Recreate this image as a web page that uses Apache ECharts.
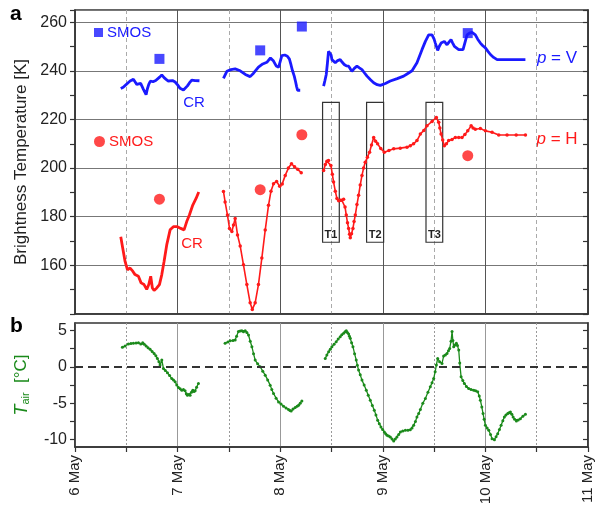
<!DOCTYPE html>
<html><head><meta charset="utf-8">
<script src="https://cdn.jsdelivr.net/npm/echarts@6/dist/echarts.min.js"></script>
<style>html,body{margin:0;padding:0;background:#fff}#c{width:596px;height:509px}</style>
</head><body><div id="c"></div>
<script>
// ---- data ----
const dayLabels = ['6 May','7 May','8 May','9 May','10 May','11 May'];
const tbLabels = [160,180,200,220,240,260];
const tairLabels = [-10,-5,0,5];

const smosV = [[0.823,244.9],[1.805,248.4],[2.211,258.2],[3.828,255.5]];
const smosH = [[0.823,187.2],[1.805,191.1],[2.211,213.7],[3.828,205.1]];

const crV1 = [[0.446,232.7],[0.47,233.2],[0.488,233.8],[0.515,235.0],[0.537,235.8],[0.553,236.6],[0.569,236.5],[0.585,235.5],[0.602,234.4],[0.620,235.2],[0.640,234.8],[0.667,232.4],[0.693,230.2],[0.705,232.5],[0.719,234.4],[0.735,235.8],[0.748,236.5],[0.760,235.5],[0.771,235.2],[0.787,236.0],[0.803,236.5],[0.825,237.4],[0.846,238.3],[0.868,237.2],[0.888,236.5],[0.910,235.8],[0.927,235.8],[0.950,236.0],[0.976,235.4],[1.0,234.2],[1.024,232.8],[1.040,232.2],[1.057,232.1],[1.075,232.8],[1.096,233.8],[1.115,235.0],[1.138,236.2],[1.155,236.5],[1.171,236.0],[1.190,236.2],[1.213,235.9]];
const crV2 = [[1.447,236.9],[1.480,239.8],[1.520,240.5],[1.561,240.8],[1.610,240.0],[1.660,238.5],[1.707,237.6],[1.740,239.0],[1.788,241.5],[1.830,242.8],[1.870,243.5],[1.905,245.3],[1.935,244.0],[1.961,242.0],[1.985,241.5],[2.016,246.2],[2.045,246.5],[2.070,246.0],[2.090,244.8],[2.105,242.5],[2.120,240.0],[2.137,237.8],[2.150,235.5],[2.160,233.5],[2.170,232.0],[2.195,232.0]];
const crV3 = [[2.423,233.7],[2.436,236],[2.449,238.5],[2.460,243],[2.471,248.0],[2.480,248.7],[2.488,248.5],[2.496,246.5],[2.504,244.6],[2.520,243.8],[2.537,243.3],[2.560,244.2],[2.585,244.6],[2.605,243.5],[2.624,242.6],[2.645,242.0],[2.667,241.9],[2.683,240.8],[2.699,239.8],[2.722,241.0],[2.748,241.9],[2.772,241.2],[2.797,240.5],[2.820,239.2],[2.846,237.8],[2.880,236.3],[2.911,235.1],[2.945,234.3],[2.976,234.0],[3.025,234.8],[3.073,235.8],[3.140,236.8],[3.203,237.8],[3.240,238.8],[3.285,240.0],[3.333,243.3],[3.382,248.7],[3.415,252.1],[3.447,254.8],[3.480,254.8],[3.500,253.0],[3.512,251.4],[3.535,248.4],[3.550,250.0],[3.568,251.4],[3.600,252.1],[3.626,250.7],[3.645,251.8],[3.665,252.8],[3.680,251.5],[3.698,250.0],[3.740,248.7],[3.782,248.7],[3.800,251.5],[3.821,254.8],[3.845,255.5],[3.870,255.8],[3.902,254.8],[3.925,253.0],[3.951,251.4],[3.975,250.3],[4.0,249.4],[4.025,248.0],[4.049,246.7],[4.080,245.5],[4.114,244.6],[4.179,244.6],[4.280,244.6],[4.390,244.6]];

const crH1 = [[0.446,171.8],[0.465,167.1],[0.488,161.6],[0.511,158.2],[0.537,158.9],[0.563,157.6],[0.585,156.2],[0.618,155.5],[0.644,152.8],[0.673,152.1],[0.699,150.1],[0.719,152.1],[0.738,155.5],[0.754,150.7],[0.771,149.7],[0.797,150.7],[0.823,152.1],[0.846,156.2],[0.868,161.6],[0.894,168.4],[0.927,174.6],[0.959,175.9],[0.998,175.9],[1.031,175.2],[1.063,174.6],[1.089,178.0],[1.115,180.7],[1.148,184.8],[1.180,187.5],[1.206,190.2]];
const crH2 = [[1.447,190.4],[1.463,186.1],[1.486,180.7],[1.506,175.2],[1.529,173.9],[1.545,176.6],[1.561,179.3],[1.584,172.5],[1.610,168.0],[1.642,160.2],[1.675,152.1],[1.707,144.6],[1.728,141.9],[1.756,144.6],[1.788,152.1],[1.821,163.0],[1.854,174.5],[1.886,184.7],[1.910,190.5],[1.935,193.6],[1.965,194.5],[1.995,192.5],[2.020,193.5],[2.049,197.0],[2.080,200.0],[2.110,201.8],[2.140,200.5],[2.170,199.5],[2.205,198.1]];
const crH3 = [[2.423,199.0],[2.440,201.5],[2.455,202.8],[2.471,203.1],[2.494,201.1],[2.508,197.5],[2.520,194.3],[2.537,190.5],[2.553,187.5],[2.570,186.6],[2.585,186.8],[2.600,186.8],[2.618,187.2],[2.632,184.0],[2.644,180.7],[2.656,177.5],[2.667,175.2],[2.676,172.8],[2.683,171.4],[2.695,173.0],[2.709,175.2],[2.720,178.0],[2.732,180.7],[2.748,185.0],[2.764,188.8],[2.780,193.0],[2.797,197.0],[2.813,200.0],[2.829,202.4],[2.850,204.5],[2.871,206.5],[2.890,209.5],[2.911,212.6],[2.930,211.0],[2.949,210.0],[2.980,208.0],[3.015,206.5],[3.060,207.2],[3.106,207.9],[3.170,208.2],[3.236,208.6],[3.268,209.2],[3.300,210.0],[3.333,211.3],[3.366,214.0],[3.400,215.5],[3.431,217.4],[3.480,219.2],[3.522,220.8],[3.545,218.8],[3.556,216.5],[3.568,214.0],[3.584,211.5],[3.600,209.2],[3.620,210.0],[3.642,211.3],[3.675,211.8],[3.707,212.6],[3.740,212.6],[3.772,212.6],[3.800,213.8],[3.828,215.3],[3.861,217.4],[3.880,216.5],[3.902,216.0],[3.951,216.3],[4.0,215.3],[4.065,214.7],[4.130,213.6],[4.211,213.6],[4.300,213.6],[4.390,213.6]];

const transects = [
  {name:'T1', x0:2.413, x1:2.576},
  {name:'T2', x0:2.842, x1:3.008},
  {name:'T3', x0:3.421, x1:3.584}
];
const transectRange = [169.5, 227];

const tair1 = [[0.462,2.66],[0.488,2.84],[0.520,3.12],[0.545,3.2],[0.569,3.21],[0.595,3.25],[0.618,3.30],[0.641,3.12],[0.660,3.30],[0.675,3.1],[0.693,2.84],[0.712,2.6],[0.732,2.39],[0.752,2.1],[0.771,1.83],[0.788,1.5],[0.803,1.15],[0.818,0.7],[0.829,0.23],[0.846,0.92],[0.862,-0.23],[0.880,-0.5],[0.901,-0.83],[0.922,-1.2],[0.943,-1.61],[0.960,-1.8],[0.976,-2.06],[0.992,-2.5],[1.008,-2.84],[1.025,-3.0],[1.041,-3.21],[1.057,-3.1],[1.073,-3.30],[1.085,-3.7],[1.096,-3.90],[1.110,-3.8],[1.122,-3.90],[1.135,-3.5],[1.148,-3.21],[1.160,-3.4],[1.171,-3.30],[1.185,-2.8],[1.203,-2.29]];
const tair2 = [[1.463,3.21],[1.490,3.4],[1.512,3.58],[1.540,3.6],[1.561,3.67],[1.575,4.2],[1.593,4.82],[1.610,4.9],[1.626,4.95],[1.642,4.8],[1.659,4.95],[1.675,4.7],[1.691,4.36],[1.708,3.5],[1.724,2.75],[1.740,1.8],[1.756,0.92],[1.780,0.4],[1.805,0],[1.830,-0.6],[1.854,-1.15],[1.878,-1.8],[1.902,-2.52],[1.918,-3.1],[1.935,-3.67],[1.960,-4.3],[1.984,-4.82],[2.008,-5.1],[2.033,-5.41],[2.057,-5.65],[2.081,-5.87],[2.095,-6.0],[2.107,-6.06],[2.125,-5.8],[2.146,-5.60],[2.165,-5.4],[2.179,-5.28],[2.195,-5.0],[2.211,-4.68]];
const tair3 = [[2.439,1.15],[2.455,1.6],[2.472,2.06],[2.488,2.4],[2.504,2.75],[2.525,3.1],[2.546,3.44],[2.565,3.8],[2.585,4.13],[2.600,4.4],[2.618,4.59],[2.632,4.8],[2.644,4.95],[2.655,4.7],[2.667,4.50],[2.675,4.2],[2.683,3.90],[2.696,3.3],[2.709,2.75],[2.725,1.8],[2.741,0.92],[2.752,0.2],[2.764,-0.46],[2.780,-1.1],[2.797,-1.83],[2.818,-2.5],[2.839,-3.21],[2.858,-3.9],[2.878,-4.59],[2.898,-5.3],[2.917,-5.96],[2.933,-6.6],[2.950,-7.34],[2.966,-7.8],[2.982,-8.26],[2.998,-8.6],[3.015,-8.94],[3.028,-9.2],[3.041,-9.40],[3.057,-9.5],[3.073,-9.63],[3.090,-9.9],[3.106,-10.18],[3.122,-9.9],[3.138,-9.63],[3.155,-9.3],[3.171,-8.94],[3.195,-8.8],[3.220,-8.72],[3.245,-8.7],[3.268,-8.62],[3.285,-8.4],[3.301,-8.03],[3.318,-7.5],[3.333,-6.88],[3.350,-6.4],[3.366,-5.85],[3.390,-5.0],[3.415,-4.36],[3.440,-3.5],[3.463,-2.75],[3.480,-2.2],[3.496,-1.61],[3.510,-0.7],[3.522,0.23],[3.535,1.15],[3.554,0.69],[3.577,0.46],[3.593,1.47],[3.610,1.6],[3.626,1.83],[3.640,2.2],[3.652,2.52],[3.665,3.5],[3.675,4.82],[3.683,3.6],[3.691,2.75],[3.705,3.0],[3.717,3.21],[3.728,2.9],[3.740,2.29],[3.750,0.5],[3.763,-1.38],[3.780,-1.9],[3.795,-2.29],[3.815,-2.7],[3.837,-2.98],[3.860,-3.1],[3.886,-3.21],[3.905,-3.3],[3.925,-3.44],[3.940,-4.0],[3.951,-4.59],[3.965,-5.5],[3.977,-6.42],[3.988,-7.2],[4.0,-8.03],[4.017,-8.4],[4.033,-8.72],[4.050,-9.3],[4.065,-9.86],[4.088,-10.0],[4.104,-9.6],[4.120,-9.17],[4.137,-8.6],[4.153,-8.03],[4.170,-7.4],[4.185,-6.88],[4.200,-6.6],[4.218,-6.42],[4.230,-6.3],[4.244,-6.19],[4.258,-6.5],[4.270,-6.88],[4.285,-7.2],[4.302,-7.43],[4.320,-7.3],[4.341,-7.11],[4.365,-6.8],[4.390,-6.51]];

// ---- styles ----
const BLUE = '#1a1aff', RED = '#ff1a1a', GREEN = '#1b8a1b', INK = '#222';
const FONT = 'Liberation Sans, Arial, sans-serif';

function crSeries(name, data, color, thin) {
  return {
    type: 'line', name: name, xAxisIndex: 0, yAxisIndex: 0, data: data,
    showSymbol: !!thin, symbol: 'circle', symbolSize: thin ? 3.5 : 0,
    lineStyle: { color: color, width: thin ? 1.6 : 2.8 },
    itemStyle: { color: color }, silent: true, z: 3
  };
}
function tairSeries(data) {
  return {
    type: 'line', xAxisIndex: 1, yAxisIndex: 2, data: data,
    showSymbol: true, symbol: 'circle', symbolSize: 3,
    lineStyle: { color: GREEN, width: 1.3 }, itemStyle: { color: GREEN }, silent: true, z: 3
  };
}

const series = [
  crSeries('V1', crV1, BLUE, false),
  crSeries('V2', crV2, BLUE, false),
  crSeries('V3', crV3, BLUE, false),
  crSeries('H1', crH1, RED, false),
  crSeries('H2', crH2, RED, true),
  Object.assign(crSeries('H3', crH3, RED, true), {
    markArea: {
      silent: true,
      itemStyle: { color: 'rgba(0,0,0,0)', borderColor: '#333', borderWidth: 1.2 },
      label: { show: true, position: 'insideBottom', distance: 2, color: INK, fontSize: 11, fontWeight: 'bold', fontFamily: FONT },
      data: transects.map(t => [{ name: t.name, xAxis: t.x0, yAxis: transectRange[0] }, { xAxis: t.x1, yAxis: transectRange[1] }])
    }
  }),
  { type: 'scatter', name: 'SMOS V', xAxisIndex: 0, yAxisIndex: 0, data: smosV, symbol: 'rect', symbolSize: 10, itemStyle: { color: BLUE }, z: 4, silent: true },
  { type: 'scatter', name: 'SMOS H', xAxisIndex: 0, yAxisIndex: 0, data: smosH, symbol: 'circle', symbolSize: 11, itemStyle: { color: RED }, z: 4, silent: true },
  Object.assign(tairSeries(tair1), {
    markLine: { silent: true, symbol: 'none', label: { show: false },
      lineStyle: { color: '#333', type: [8, 5], width: 2 }, data: [{ yAxis: 0 }] }
  }),
  tairSeries(tair2),
  tairSeries(tair3)
];

const xCommon = {
  type: 'value', min: 0, max: 5, interval: 1,
  axisLine: { show: true, onZero: false, lineStyle: { color: '#333', width: 1.5 } },
  minorTick: { show: false, splitNumber: 2 }
};

const option = {
  animation: false,
  textStyle: { fontFamily: FONT },
  grid: [
    { left: 75, right: 8, top: 10, height: 304, show: true, borderColor: '#333', borderWidth: 1.5 },
    { left: 75, right: 8, top: 323, height: 124, show: true, borderColor: '#333', borderWidth: 1.5 }
  ],
  legend: [
    { left: 89, top: 20, itemWidth: 9, itemHeight: 9, selectedMode: false, itemGap: 5,
      data: [{ name: 'SMOS V', icon: 'rect' }], formatter: () => 'SMOS',
      textStyle: { color: BLUE, fontSize: 15, fontFamily: FONT, padding: [0,0,0,-1] } },
    { left: 89, top: 129, itemWidth: 11, itemHeight: 11, selectedMode: false,
      data: [{ name: 'SMOS H', icon: 'circle' }], formatter: () => 'SMOS',
      textStyle: { color: RED, fontSize: 15, fontFamily: FONT, padding: [0,0,0,-1] } }
  ],
  xAxis: [
    Object.assign({}, xCommon, { gridIndex: 0,
      axisLabel: { show: false }, axisTick: { show: false },
      splitLine: { show: true, lineStyle: { color: '#555', width: 1 } },
      minorSplitLine: { show: true, lineStyle: { color: '#aaa', width: 1, type: [4, 3] } } }),
    Object.assign({}, xCommon, { gridIndex: 1,
      axisLabel: { show: true, rotate: 90, fontSize: 15, color: INK, margin: 8, formatter: v => dayLabels[Math.round(v)] },
      axisTick: { show: true, length: 5, lineStyle: { color: '#333', width: 1.2 } },
      minorTick: { show: true, splitNumber: 2, length: 5, lineStyle: { color: '#333', width: 1.2 } },
      splitLine: { show: true, lineStyle: { color: '#999', width: 1 } },
      minorSplitLine: { show: true, lineStyle: { color: '#999', width: 1, type: [2, 2] } } })
  ],
  yAxis: [
    { type: 'value', gridIndex: 0, min: 140, max: 265, interval: 20,
      name: 'Brightness Temperature [K]', nameLocation: 'middle', nameGap: 42,
      nameTextStyle: { fontSize: 17, color: INK, fontFamily: FONT },
      axisLine: { show: true, lineStyle: { color: '#333', width: 1.5 } },
      axisLabel: { fontSize: 16, color: INK, margin: 8, showMinLabel: false, showMaxLabel: false,
        formatter: v => tbLabels.indexOf(v) >= 0 ? String(v) : '' },
      axisTick: { show: true, length: 5, lineStyle: { color: '#333', width: 1.2 } },
      minorTick: { show: true, splitNumber: 2, length: 5, lineStyle: { color: '#333', width: 1.2 } },
      splitLine: { show: true, lineStyle: { color: '#777', width: 1 } } },
    { type: 'value', gridIndex: 0, min: 140, max: 265, interval: 20, position: 'right',
      axisLine: { show: true, lineStyle: { color: '#333', width: 1.5 } },
      axisLabel: { show: false },
      axisTick: { show: true, inside: true, length: 5, lineStyle: { color: '#333', width: 1.2 } },
      minorTick: { show: true, splitNumber: 2, length: 5, lineStyle: { color: '#333', width: 1.2 } },
      splitLine: { show: false } },
    { type: 'value', gridIndex: 1, min: -11, max: 6,
      name: '{i|T}{s|air}  [°C]', nameLocation: 'middle', nameGap: 44,
      nameTextStyle: { color: GREEN, fontSize: 17, fontFamily: FONT,
        rich: { i: { fontStyle: 'italic', fontSize: 18, color: GREEN, fontFamily: FONT },
                s: { fontSize: 11, color: GREEN, fontFamily: FONT, verticalAlign: 'bottom', padding: [8, 0, 0, 0] } } },
      axisLine: { show: true, lineStyle: { color: '#333', width: 1.5 } },
      axisLabel: { fontSize: 16, color: INK, margin: 8, customValues: tairLabels },
      axisTick: { show: true, length: 5, customValues: [-10, -7.5, -5, -2.5, 0, 2.5, 5], lineStyle: { color: '#333', width: 1.2 } },
      splitLine: { show: false } },
    { type: 'value', gridIndex: 1, min: -11, max: 6, position: 'right',
      axisLine: { show: true, lineStyle: { color: '#333', width: 1.5 } },
      axisLabel: { show: false, customValues: tairLabels },
      axisTick: { show: true, inside: true, length: 5, customValues: [-10, -7.5, -5, -2.5, 0, 2.5, 5], lineStyle: { color: '#333', width: 1.2 } },
      splitLine: { show: false } }
  ],
  graphic: [
    { type: 'text', left: 10, top: 4, style: { text: 'a', font: 'bold 21px ' + FONT, fill: '#000' } },
    { type: 'text', left: 10, top: 316, style: { text: 'b', font: 'bold 21px ' + FONT, fill: '#000' } },
    { type: 'text', x: 194, y: 103, style: { text: 'CR', font: '15px ' + FONT, fill: BLUE, align: 'center', verticalAlign: 'middle' } },
    { type: 'text', x: 192, y: 244, style: { text: 'CR', font: '15px ' + FONT, fill: RED, align: 'center', verticalAlign: 'middle' } },
    { type: 'text', x: 557, y: 58, style: { text: '{i|p} = V', align: 'center', verticalAlign: 'middle', fill: BLUE, font: '17px ' + FONT,
        rich: { i: { fontStyle: 'italic', fontSize: 17, fill: BLUE, fontFamily: FONT } } } },
    { type: 'text', x: 557, y: 139, style: { text: '{i|p} = H', align: 'center', verticalAlign: 'middle', fill: RED, font: '17px ' + FONT,
        rich: { i: { fontStyle: 'italic', fontSize: 17, fill: RED, fontFamily: FONT } } } }
  ],
  series: series
};

const chart = echarts.init(document.getElementById('c'), null, { renderer: 'canvas' });
chart.setOption(option);
</script>
</body></html>
